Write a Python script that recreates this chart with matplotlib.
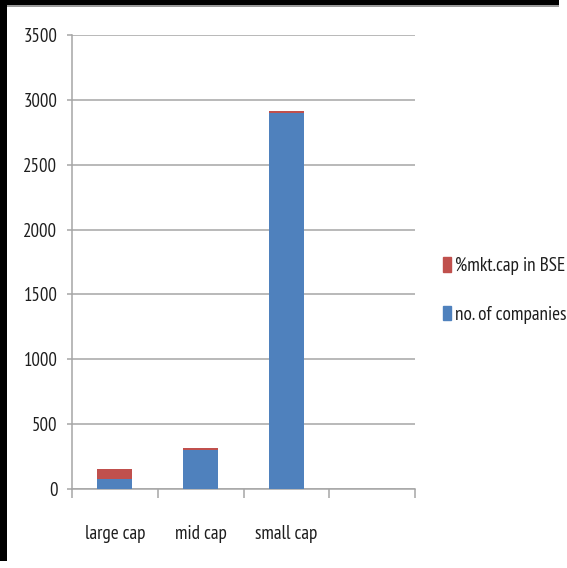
import matplotlib
matplotlib.use("Agg")
import matplotlib.pyplot as plt
from matplotlib.patches import Rectangle

categories = ["large cap", "mid cap", "small cap", ""]
companies = [80, 300, 2900]
mkt_cap_pct = [73, 18, 12]
series_names = ["no. of companies", "%mkt.cap in BSE"]
yticks = [0, 500, 1000, 1500, 2000, 2500, 3000, 3500]

BLUE = "#4F81BD"
RED = "#C0504D"
GRID = "#A6A6A6"
TXT = "#1E1E1E"

plt.rcParams["font.family"] = ["PT Sans Narrow", "Carlito", "DejaVu Sans"]

W, H = 567, 568
fig = plt.figure(figsize=(W / 100, H / 100), dpi=100)
fig.patch.set_alpha(0)

def fr(x0, y0, x1, y1, color, z=-10):
    fig.patches.append(Rectangle((x0 / W, 1 - y1 / H), (x1 - x0) / W, (y1 - y0) / H,
                                 transform=fig.transFigure, facecolor=color,
                                 edgecolor="none", zorder=z))

# white canvas with black frame on left/top; right/bottom strip transparent
fr(0, 0, 559, 561, "white", -12)
fr(0, 0, 559, 5, "black", -11)
fr(0, 5, 559, 7, "#9a9a9a", -11)
fr(0, 0, 7, 561, "black", -11)

ax = fig.add_axes([72 / W, 1 - 489 / H, (415 - 72) / W, (489 - 35) / H])
ax.set_facecolor("none")

x = list(range(len(companies)))
bw = 0.41
ax.bar(x, companies, width=bw, color=BLUE, zorder=3)
ax.bar(x, mkt_cap_pct, width=bw, bottom=companies, color=RED, zorder=3)

ax.set_xlim(-0.5, len(categories) - 0.5)
ax.set_ylim(0, 3500)
ax.set_yticks(yticks)
ax.set_yticklabels([str(v) for v in yticks])
ax.yaxis.grid(True, color=GRID, linewidth=1.1, zorder=0)
ax.set_axisbelow(True)

ax.set_xticks([i - 0.5 for i in range(len(categories) + 1)])
ax.set_xticklabels([])
ax.set_xticks(list(range(len(categories))), minor=True)
ax.set_xticklabels(categories, minor=True)
ax.tick_params(axis="x", which="major", length=6.5, width=1.1, color=GRID, direction="out")
ax.tick_params(axis="x", which="minor", length=0, pad=26, labelsize=13.8, labelcolor=TXT)
ax.tick_params(axis="y", length=3.6, width=1.1, color=GRID, pad=7.0, labelsize=13.5, labelcolor=TXT)

for s in ["top", "right"]:
    ax.spines[s].set_visible(False)
for s in ["left", "bottom"]:
    ax.spines[s].set_color(GRID)
    ax.spines[s].set_linewidth(1.1)

handles = [Rectangle((0, 0), 1, 1, color=RED), Rectangle((0, 0), 1, 1, color=BLUE)]
fig.legend(handles, [series_names[1], series_names[0]], loc="center left",
           bbox_to_anchor=(443 / W, 1 - 290.5 / H), frameon=False, fontsize=13.9,
           handlelength=0.42, handleheight=0.78, handletextpad=0.22,
           labelspacing=1.6, borderpad=0, borderaxespad=0, labelcolor=TXT)

fig.savefig("out.png", dpi=100, facecolor=(0, 0, 0, 0))
